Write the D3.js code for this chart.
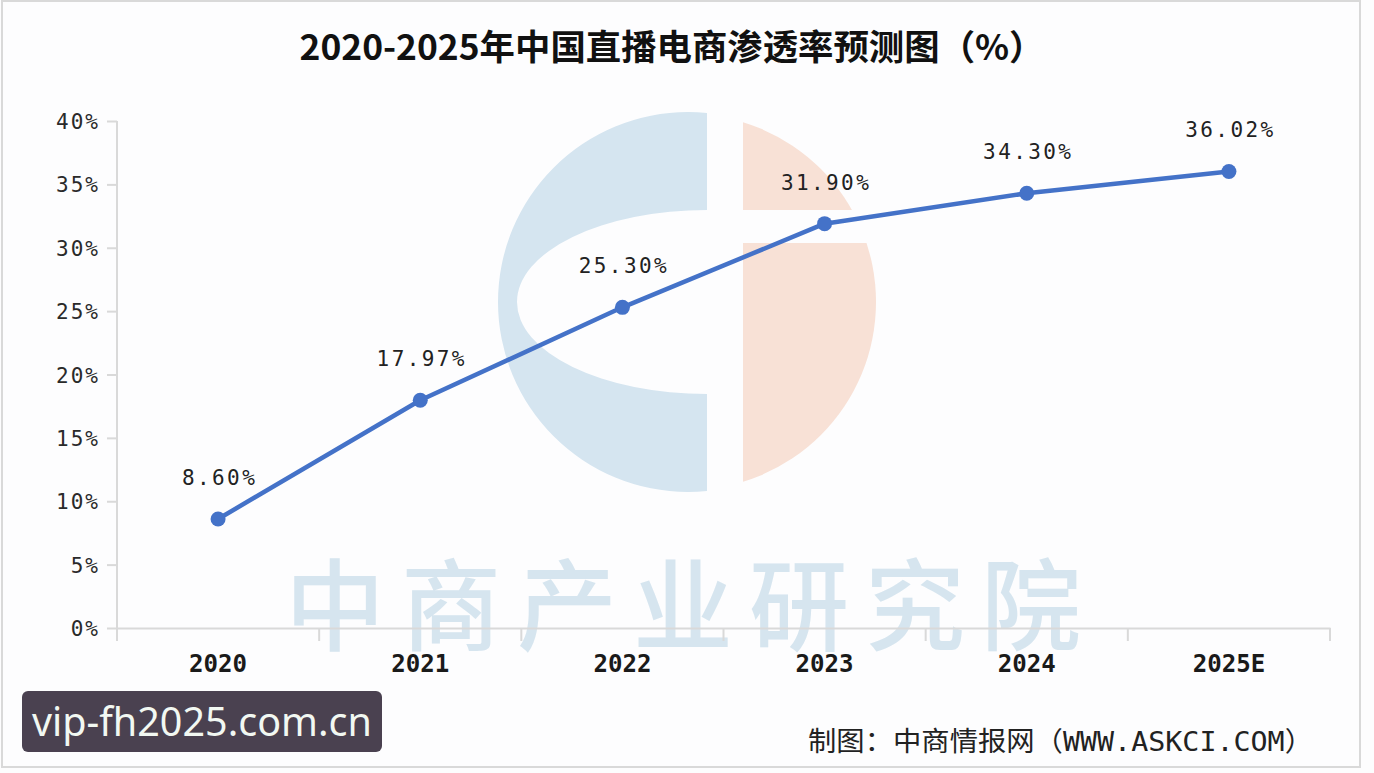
<!DOCTYPE html>
<html>
<head>
<meta charset="utf-8">
<script src="https://cdn.jsdelivr.net/npm/d3@7"></script>
<style>
  body { margin: 0; background: #fdfdfe; }
  .num { font-family: "DejaVu Sans Mono", monospace; }
</style>
</head>
<body>
<div id="chart"></div>
<script>
// data
var years = ["2020", "2021", "2022", "2023", "2024", "2025E"];
var rates = [8.60, 17.97, 25.30, 31.90, 34.30, 36.02];
var yTicks = [0, 5, 10, 15, 20, 25, 30, 35, 40];

var W = 1374, H = 773;
var plot = {left: 117, right: 1330, top: 121, bottom: 628};

var svg = d3.select("#chart").append("svg")
  .attr("width", W).attr("height", H);

svg.append("rect").attr("width", W).attr("height", H).attr("fill", "#fdfdfe");
// frame of the screenshot
svg.append("rect")
  .attr("x", 2).attr("y", 1).attr("width", 1358).attr("height", 766)
  .attr("fill", "none").attr("stroke", "#d9d9d9").attr("stroke-width", 2);

// watermark logo
var defs = svg.append("defs");
defs.append("clipPath").attr("id", "clipBlue")
  .append("rect").attr("x", 400).attr("y", 0).attr("width", 307).attr("height", 600);
var cp = defs.append("clipPath").attr("id", "clipPeach");
cp.append("rect").attr("x", 743).attr("y", 0).attr("width", 200).attr("height", 210);
cp.append("rect").attr("x", 743).attr("y", 243).attr("width", 200).attr("height", 400);

var cx = 688, cy = 302, r = 190;
var ring = d3.path();
ring.arc(cx, cy, r, 0, Math.PI * 2);
svg.append("g").attr("clip-path", "url(#clipBlue)")
  .append("path")
  .attr("d", ring.toString() + " M" + (707 + 190) + "," + cy +
        " A190,92 0 1,0 " + (707 - 190) + "," + cy +
        " A190,92 0 1,0 " + (707 + 190) + "," + cy + " Z")
  .attr("fill-rule", "evenodd")
  .attr("fill", "#d5e5f0");
svg.append("g").attr("clip-path", "url(#clipPeach)")
  .append("circle").attr("cx", cx).attr("cy", cy).attr("r", r - 2)
  .attr("fill", "#f8e1d6");

svg.append("text")
  .attr("x", 285).attr("y", 643)
  .style("font-family", "'Noto Sans CJK SC'")
  .style("font-size", "100px")
  .style("font-weight", "500")
  .style("letter-spacing", "16px")
  .attr("fill", "#d6e5ef")
  .text("中商产业研究院");

// scales
var x = d3.scaleBand().domain(years).range([plot.left, plot.right]).padding(0);
var y = d3.scaleLinear().domain([0, 40]).range([plot.bottom, plot.top]);

// y axis
var yAxis = svg.append("g")
  .attr("transform", "translate(" + plot.left + ",0)")
  .call(d3.axisLeft(y).tickValues(yTicks).tickSize(10).tickSizeOuter(0)
    .tickFormat(function(d) { return d + "%"; }));
yAxis.select(".domain").attr("stroke", "#d9d9d9").attr("stroke-width", 2)
  .attr("d", "M0," + plot.top + "V" + (plot.bottom + 13));
yAxis.selectAll(".tick line").attr("stroke", "#d9d9d9").attr("stroke-width", 2);
yAxis.selectAll(".tick text")
  .attr("class", "num")
  .attr("x", -17).attr("dy", "0.36em")
  .style("font-size", "21px")
  .style("letter-spacing", "2px")
  .attr("fill", "#2a2a2a");

// x axis
var xAxis = svg.append("g")
  .attr("transform", "translate(0," + plot.bottom + ")")
  .call(d3.axisBottom(x).tickSize(0).tickSizeOuter(0));
xAxis.select(".domain").attr("stroke", "#d9d9d9").attr("stroke-width", 2);
xAxis.selectAll(".tick text")
  .attr("class", "num")
  .attr("y", 44)
  .attr("dy", 0)
  .style("font-size", "24px")
  .style("font-weight", "bold")
  .attr("textLength", function(d) { return d.length * 14.5; })
  .attr("lengthAdjust", "spacingAndGlyphs")
  .attr("fill", "#1a1a1a");
// band boundary ticks
var edges = years.map(function(d) { return x(d); }).concat([x.range()[1]]);
xAxis.selectAll(".edge").data(edges).enter().append("line")
  .attr("x1", function(d) { return d; }).attr("x2", function(d) { return d; })
  .attr("y1", 0).attr("y2", 13)
  .attr("stroke", "#d9d9d9").attr("stroke-width", 2);

// line
var pts = years.map(function(d, i) { return {year: d, v: rates[i]}; });
var cxOf = function(d) { return x(d.year) + x.bandwidth() / 2; };

svg.append("path").datum(pts)
  .attr("fill", "none")
  .attr("stroke", "#4472c8")
  .attr("stroke-width", 4.5)
  .attr("stroke-linejoin", "round")
  .attr("d", d3.line().x(cxOf).y(function(d) { return y(d.v); }));

svg.selectAll(".dot").data(pts).enter().append("circle")
  .attr("cx", cxOf).attr("cy", function(d) { return y(d.v); })
  .attr("r", 7.5).attr("fill", "#4472c8");

svg.selectAll(".lbl").data(pts).enter().append("text")
  .attr("class", "num")
  .attr("x", function(d) { return cxOf(d) + 1.5; })
  .attr("y", function(d) { return y(d.v) - 34; })
  .attr("text-anchor", "middle")
  .style("font-size", "21px")
  .style("letter-spacing", "2.4px")
  .attr("fill", "#222")
  .text(function(d) { return d.v.toFixed(2) + "%"; });

// title
svg.append("text")
  .attr("x", 672).attr("y", 60)
  .attr("text-anchor", "middle")
  .style("font-family", "'Noto Sans CJK SC'")
  .style("font-size", "35px")
  .style("font-weight", "bold")
  .attr("textLength", 745)
  .attr("lengthAdjust", "spacingAndGlyphs")
  .attr("fill", "#111")
  .text("2020-2025年中国直播电商渗透率预测图（%）");

// source
svg.append("text")
  .attr("x", 808).attr("y", 751)
  .style("font-family", "'DejaVu Sans Mono', 'Noto Sans CJK SC'")
  .style("font-size", "27px")
  .attr("textLength", 505)
  .attr("lengthAdjust", "spacingAndGlyphs")
  .attr("fill", "#222")
  .text("制图：中商情报网（WWW.ASKCI.COM）");

// site badge
svg.append("rect")
  .attr("x", 22).attr("y", 691).attr("width", 360).attr("height", 61).attr("rx", 6)
  .attr("fill", "#4a4150");
svg.append("text")
  .attr("x", 32).attr("y", 736)
  .style("font-family", "'Noto Sans'")
  .style("font-size", "40px")
  .attr("textLength", 340)
  .attr("lengthAdjust", "spacingAndGlyphs")
  .attr("fill", "#f2f8f2")
  .text("vip-fh2025.com.cn");
</script>
</body>
</html>
